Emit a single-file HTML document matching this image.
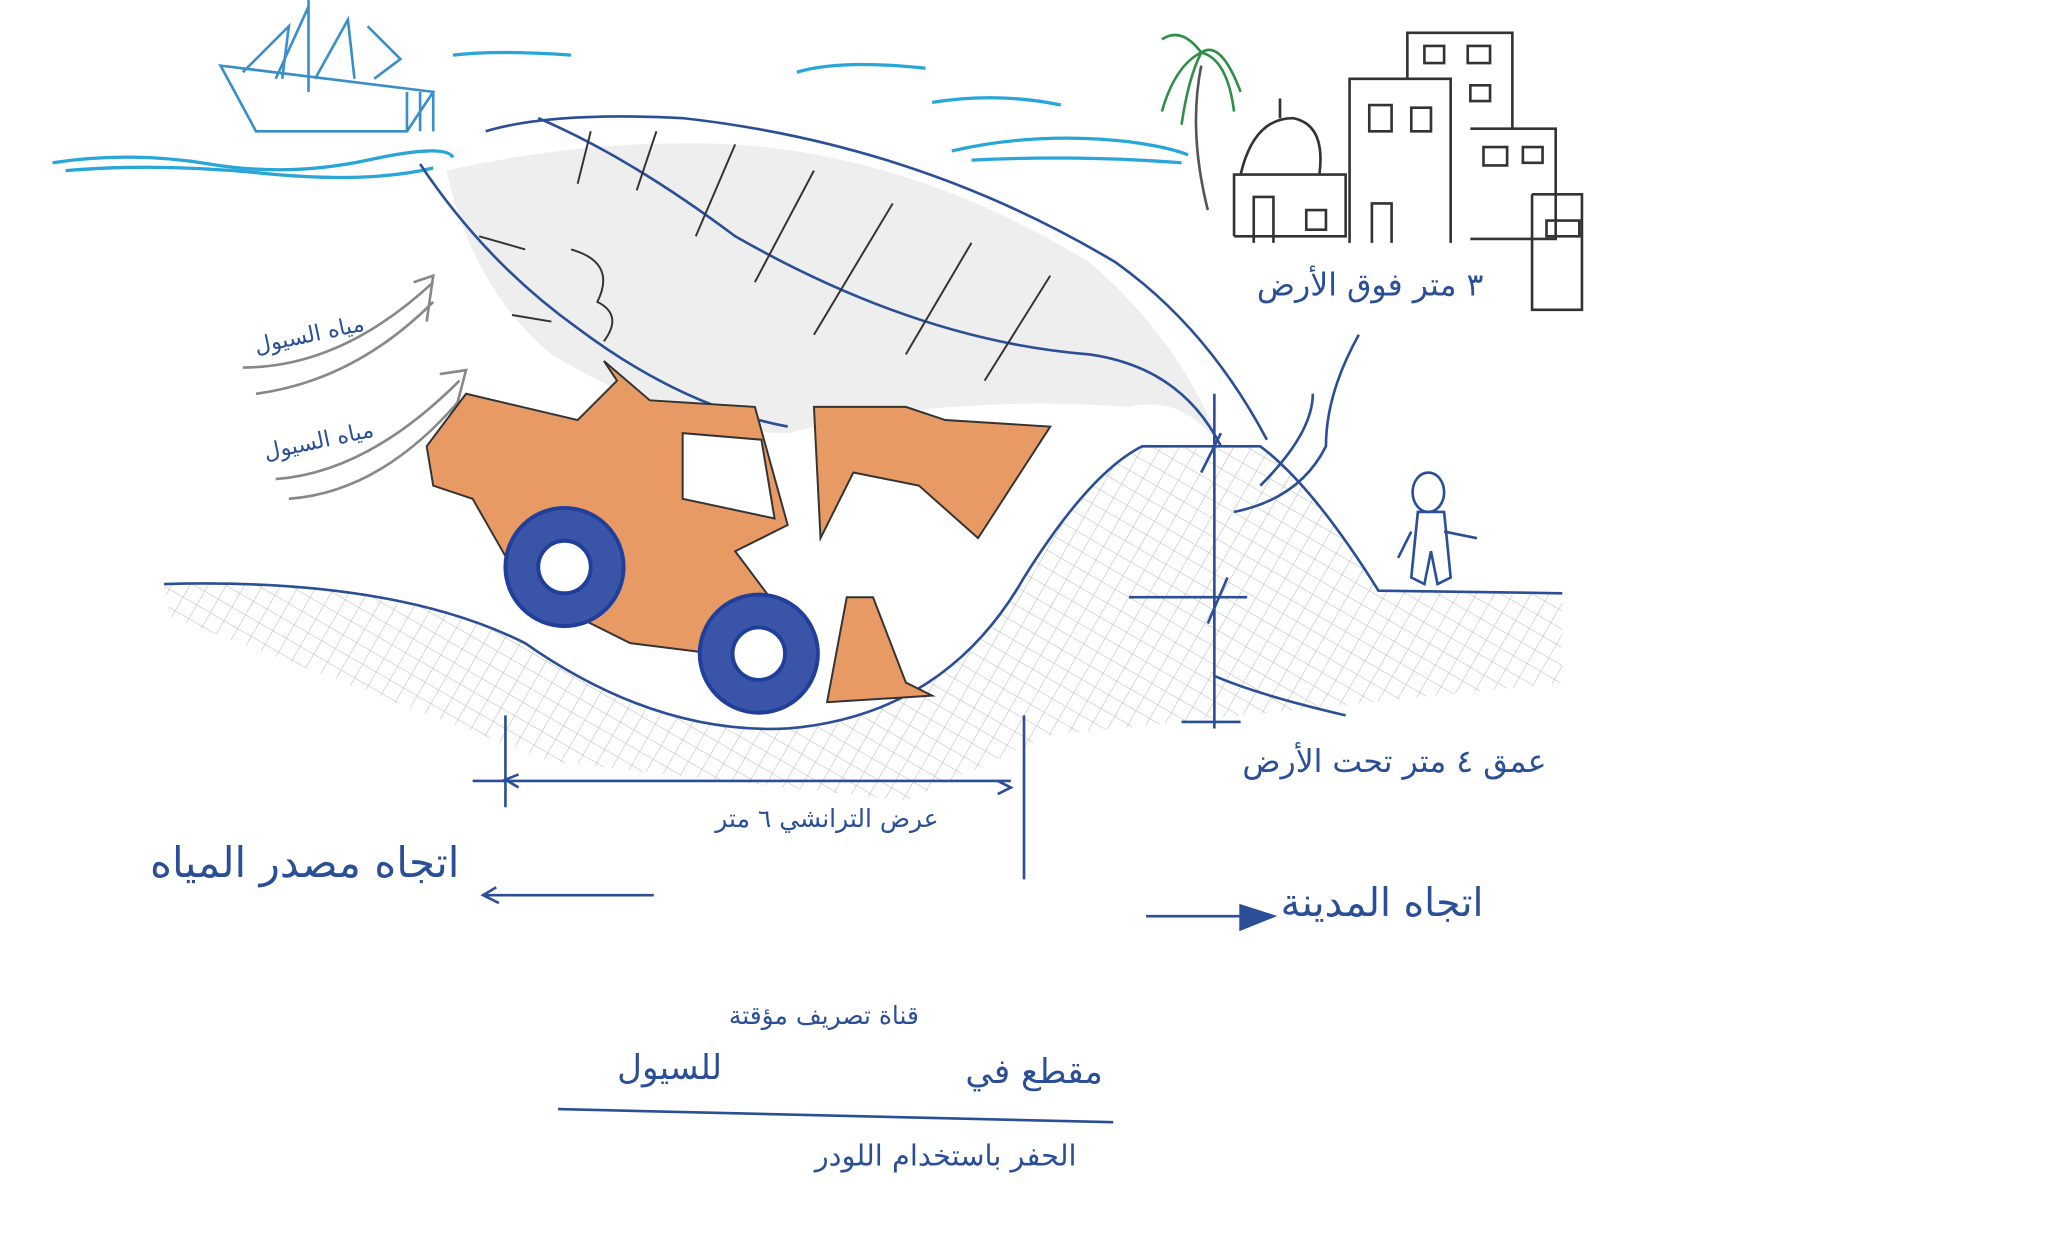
<!DOCTYPE html>
<html><head><meta charset="utf-8"><style>
html,body{margin:0;padding:0;background:#fff}
svg{display:block}
text{font-family:"DejaVu Sans","Liberation Sans",sans-serif;fill:#2a4f96}
</style></head><body>
<svg width="2048" height="1243" viewBox="0 0 1560 947" preserveAspectRatio="none" xmlns="http://www.w3.org/2000/svg">
<defs>
<pattern id="hatch" width="12" height="12" patternUnits="userSpaceOnUse" patternTransform="rotate(30)">
<path d="M0 0H12M0 0V12" stroke="#9a9a9a" stroke-width="0.8"/>
</pattern>
</defs>
<rect width="1560" height="947" fill="#fff"/>
<g stroke="#3a8fc8" stroke-width="2" fill="none">
<path d="M168 50 L330 70 L310 100 L195 100 Z"/>
<path d="M235 0 L235 70 M210 60 L235 5 M240 60 L265 15 L270 60 M280 20 L305 45 L285 60 M185 55 L220 20 L215 60"/>
<path d="M310 70 V100 M320 70 V100 M330 70 V100"/>
</g>
<g stroke="#28a6d8" stroke-width="2.5" fill="none">
<path d="M40 124 Q100 115 160 125 T280 122 T345 120"/>
<path d="M50 130 Q120 124 200 132 T330 128"/>
<path d="M345 42 Q380 38 435 42"/>
<path d="M607 55 Q640 45 705 52"/>
<path d="M710 78 Q760 70 808 80"/>
<path d="M725 115 Q790 100 860 108 Q890 112 905 118"/>
<path d="M740 122 Q820 118 900 124"/>
</g>
<path d="M125 445 Q300 440 400 490 Q500 560 600 555 Q720 545 780 440 Q830 360 870 340 L960 340 Q1000 370 1050 450 L1190 452 L1190 520 L800 560 L690 610 L420 580 L130 470 Z" fill="url(#hatch)" opacity="0.7"/>
<path d="M340 130 Q360 220 420 270 Q520 330 600 330 Q720 300 860 310 Q900 300 930 340 Q900 260 830 200 Q700 120 560 110 Q450 105 340 130 Z" fill="#eeeeee"/>
<g stroke="#2a4f96" stroke-width="2" fill="none">
<path d="M370 100 Q420 85 520 90 Q700 110 850 200 Q920 250 965 335"/>
<path d="M320 125 Q370 200 440 250 Q520 310 600 325 M410 90 Q480 120 560 180 Q700 260 830 270 Q900 280 930 340"/>
<path d="M125 445 Q300 440 400 490 Q500 560 600 555 Q720 545 780 440 Q830 360 870 340 L960 340 Q1000 370 1050 450 L1190 452"/>
<path d="M1035 255 Q1010 300 1010 340 Q990 380 940 390 M960 370 Q1000 330 1000 300"/>
<path d="M925 300 V555 M860 455 H950 M900 550 H945 M930 330 L915 360 M935 440 L920 475"/>
<path d="M925 515 Q960 530 1025 545"/>
<path d="M385 545 V615 M780 545 V670"/>
<path d="M360 595 H770 M760 595 L770 600 L760 605 M395 590 L385 594 L395 600"/>
<path d="M370 682 H498 M378 676 L368 682 L380 688"/>
<path d="M873 698 H970 M945 690 L970 698 L945 708 Z" fill="#2a4f96"/>
<path d="M425 845 Q600 850 848 855"/>
</g>
<g stroke="#333" stroke-width="1.5" fill="none">
<path d="M450 100 L440 140 M500 100 L485 145 M560 110 L530 180 M620 130 L575 215 M680 155 L620 255 M740 185 L690 270 M800 210 L750 290"/>
<path d="M365 180 L400 190 M390 240 L420 245 M435 190 Q470 200 455 230 Q475 240 460 260"/>
</g>
<g stroke="#888" stroke-width="2" fill="none">
<path d="M185 280 Q260 280 330 215 M195 300 Q270 290 330 230 M315 215 L330 210 L325 245"/>
<path d="M210 365 Q280 360 350 290 M220 380 Q290 375 350 305 M335 285 L355 282 L345 320"/>
</g>
<g stroke="#333" stroke-width="1.5">
<path d="M355 300 L440 320 L470 290 L460 275 L495 305 L575 310 L600 400 L560 420 L590 460 L600 505 L480 490 L400 450 L360 380 L330 370 L325 340 Z" fill="#e79a63"/>
<path d="M620 310 L690 310 L720 320 L800 325 L745 410 L700 370 L650 360 L625 410 Z" fill="#e79a63"/>
<path d="M645 455 L665 455 L690 520 L710 530 L630 535 Z" fill="#e79a63"/>
<path d="M520 330 L580 335 L590 395 L520 380 Z" fill="#fff"/>
</g>
<g stroke="#1f3f9a" stroke-width="3">
<circle cx="430" cy="432" r="45" fill="#3a55a8"/>
<circle cx="430" cy="432" r="20" fill="#fff"/>
<circle cx="578" cy="498" r="45" fill="#3a55a8"/>
<circle cx="578" cy="498" r="20" fill="#fff"/>
</g>
<g stroke="#555" stroke-width="2" fill="none"><path d="M915 50 Q905 100 920 160"/></g>
<g stroke="#2f8f4a" stroke-width="2" fill="none"><path d="M915 40 Q895 50 885 85 M915 40 Q930 30 945 70 M915 40 Q900 20 885 30 M915 40 Q935 45 940 85 M915 40 Q905 60 900 95"/></g>
<g stroke="#333" stroke-width="2" fill="none">
<path d="M940 180 V133 H1025 V180 H940 M945 133 Q955 90 985 90 Q1010 95 1005 133 M975 90 V75"/>
<path d="M1028 185 V60 H1105 V185 M1072 60 V25 H1152 V98 M1120 98 H1185 V182 H1120 M1167 148 H1205 V236 H1167 V148"/>
<path d="M1043 80h17v20h-17z M1075 82h15v18h-15z M1085 35h15v13h-15z M1118 35h17v13h-17z M1120 65h15v12h-15z M1130 112h18v14h-18z M1160 112h15v12h-15z M1178 168h25v12h-25z M955 185V150h15v35 M995 160h15v15h-15z M1045 185V155h15v30"/>
</g>
<g stroke="#2a4f96" stroke-width="2" fill="none">
<ellipse cx="1088" cy="375" rx="12" ry="15"/>
<path d="M1080 390 L1075 440 L1085 445 L1090 420 L1095 445 L1105 440 L1100 390 Z M1075 405 L1065 425 M1100 405 L1125 410"/>
</g>
<text x="1130" y="225" font-size="24" text-anchor="end">٣ متر فوق الأرض</text>
<text x="280" y="262" font-size="17" text-anchor="end" transform="rotate(-12 230 265)">مياه السيول</text>
<text x="285" y="342" font-size="17" text-anchor="end" transform="rotate(-12 240 335)">مياه السيول</text>
<text x="1178" y="588" font-size="24" text-anchor="end">عمق ٤ متر تحت الأرض</text>
<text x="715" y="630" font-size="19" text-anchor="end">عرض الترانشي ٦ متر</text>
<text x="350" y="668" font-size="32" text-anchor="end">اتجاه مصدر المياه</text>
<text x="1130" y="698" font-size="30" text-anchor="end">اتجاه المدينة</text>
<text x="700" y="780" font-size="19" text-anchor="end">قناة تصريف مؤقتة</text>
<text x="840" y="825" font-size="26" text-anchor="end">مقطع في</text>
<text x="550" y="822" font-size="26" text-anchor="end">للسيول</text>
<text x="820" y="888" font-size="22" text-anchor="end">الحفر باستخدام اللودر</text>
</svg>
</body></html>
